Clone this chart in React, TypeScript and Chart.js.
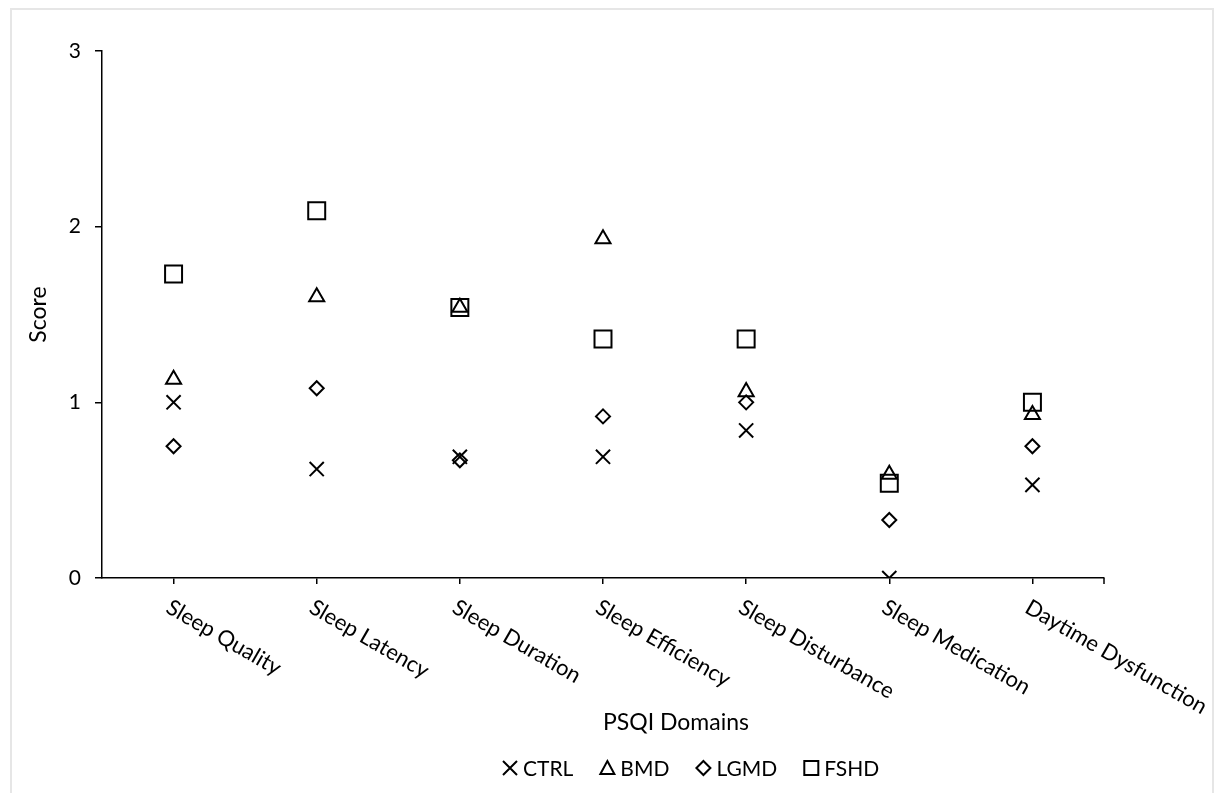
import React, { useEffect, useRef } from "react";
import { Chart, registerables } from "chart.js";

Chart.register(...registerables);

const categories = [
  "Sleep Quality",
  "Sleep Latency",
  "Sleep Duration",
  "Sleep Efficiency",
  "Sleep Disturbance",
  "Sleep Medication",
  "Daytime Dysfunction",
];
const ctrlValues = [1.0, 0.62, 0.69, 0.69, 0.84, 0.0, 0.53];
const bmdValues = [1.13, 1.6, 1.54, 1.93, 1.06, 0.59, 0.93];
const lgmdValues = [0.75, 1.08, 0.67, 0.92, 1.0, 0.33, 0.75];
const fshdValues = [1.73, 2.09, 1.54, 1.36, 1.36, 0.54, 1.0];
const seriesNames = ["CTRL", "BMD", "LGMD", "FSHD"];
const yTickValues = [0, 1, 2, 3];
const xTitle = "PSQI Domains";
const yTitle = "Score";

const FONT = "Lato, 'Open Sans', sans-serif";

function drawMarker(ctx: CanvasRenderingContext2D, kind: string, x: number, y: number, s: number) {
  ctx.beginPath();
  if (kind === "cross") {
    ctx.moveTo(x - s, y - s);
    ctx.lineTo(x + s, y + s);
    ctx.moveTo(x - s, y + s);
    ctx.lineTo(x + s, y - s);
  } else if (kind === "triangle") {
    ctx.moveTo(x, y - s);
    ctx.lineTo(x + s, y + s * 0.85);
    ctx.lineTo(x - s, y + s * 0.85);
    ctx.closePath();
  } else if (kind === "diamond") {
    ctx.moveTo(x, y - s);
    ctx.lineTo(x + s, y);
    ctx.lineTo(x, y + s);
    ctx.lineTo(x - s, y);
    ctx.closePath();
  } else {
    ctx.rect(x - s, y - s, 2 * s, 2 * s);
  }
  ctx.stroke();
}

const labelsPlugin = {
  id: "customLabels",
  afterDraw(chart: any) {
    const ctx: CanvasRenderingContext2D = chart.ctx;
    const ca = chart.chartArea;
    const xs = chart.scales.x;
    ctx.save();
    ctx.strokeStyle = "#000";
    ctx.fillStyle = "#000";
    ctx.lineWidth = 1.5;
    // end tick on x axis
    ctx.beginPath();
    ctx.moveTo(ca.right, ca.bottom);
    ctx.lineTo(ca.right, ca.bottom + 6);
    ctx.stroke();

    // rotated category labels
    ctx.font = `22px ${FONT}`;
    ctx.textAlign = "left";
    ctx.textBaseline = "top";
    categories.forEach((c, i) => {
      const px = xs.getPixelForValue(i);
      ctx.save();
      ctx.translate(px, ca.bottom + 18);
      ctx.rotate(Math.PI / 6);
      ctx.fillText(c, 0, 0);
      ctx.restore();
    });

    // x title
    ctx.font = `23px ${FONT}`;
    ctx.textAlign = "center";
    ctx.textBaseline = "middle";
    ctx.fillText(xTitle, ca.left + 574, 723);

    // y title
    ctx.save();
    ctx.translate(39, (ca.top + ca.bottom) / 2);
    ctx.rotate(-Math.PI / 2);
    ctx.fillText(yTitle, 0, 0);
    ctx.restore();

    // legend
    const kinds = ["cross", "triangle", "diamond", "square"];
    ctx.font = `21px ${FONT}`;
    ctx.textAlign = "left";
    ctx.textBaseline = "middle";
    ctx.lineWidth = 2;
    let x = 503;
    const ly = 768;
    seriesNames.forEach((name, i) => {
      drawMarker(ctx, kinds[i], x + 7, ly, 7);
      ctx.fillText(name, x + 20, ly + 1);
      x += 20 + ctx.measureText(name).width + 27;
    });
    ctx.restore();
  },
};

export default function App() {
  const canvasRef = useRef<HTMLCanvasElement | null>(null);

  useEffect(() => {
    const canvas = canvasRef.current;
    if (!canvas) return;
    const common = {
      showLine: false,
      pointBorderColor: "#000",
      pointBackgroundColor: "rgba(0,0,0,0)",
      pointBorderWidth: 2,
      pointHoverRadius: 0,
      borderColor: "#000",
      backgroundColor: "rgba(0,0,0,0)",
    };
    const chart = new Chart(canvas, {
      type: "line",
      data: {
        labels: categories,
        datasets: [
          { ...common, label: seriesNames[0], data: ctrlValues, pointStyle: "crossRot", pointRadius: 10 },
          { ...common, label: seriesNames[1], data: bmdValues, pointStyle: "triangle", pointRadius: 8.7 },
          { ...common, label: seriesNames[2], data: lgmdValues, pointStyle: "rectRot", pointRadius: 7 },
          { ...common, label: seriesNames[3], data: fshdValues, pointStyle: "rect", pointRadius: 12 },
        ],
      },
      options: {
        responsive: false,
        animation: false,
        events: [],
        layout: { padding: { left: 0, top: 51, right: 113, bottom: 215 } },
        plugins: {
          legend: { display: false },
          tooltip: { enabled: false },
        },
        scales: {
          x: {
            type: "category",
            offset: true,
            grid: {
              offset: false,
              drawOnChartArea: false,
              drawTicks: true,
              tickLength: 6,
              color: "#000",
              lineWidth: 1.5,
            },
            border: { display: true, color: "#000", width: 1.5 },
            ticks: { display: false },
            afterFit: (s: any) => {
              s.height = 0;
            },
          },
          y: {
            min: 0,
            max: 3,
            afterBuildTicks: (s: any) => {
              s.ticks = yTickValues.map((v) => ({ value: v }));
            },
            grid: {
              drawOnChartArea: false,
              drawTicks: true,
              tickLength: 7,
              color: "#000",
              lineWidth: 1.5,
            },
            border: { display: true, color: "#000", width: 1.5 },
            ticks: {
              font: { family: FONT, size: 21 },
              color: "#000",
              padding: 14,
            },
            afterFit: (s: any) => {
              s.width = 102;
            },
          },
        },
      },
      plugins: [labelsPlugin],
    } as any);
    return () => chart.destroy();
  }, []);

  return (
    <>
      <div
        style={{
          position: "absolute",
          left: 10,
          top: 8,
          width: 1204,
          height: 785,
          boxSizing: "border-box",
          borderLeft: "2px solid #e6e6e6",
          borderTop: "2px solid #e6e6e6",
          borderRight: "2px solid #e6e6e6",
        }}
      />
      <canvas
        ref={canvasRef}
        width={1217}
        height={793}
        style={{ position: "absolute", left: 0, top: 0, width: 1217, height: 793, display: "block" }}
      />
    </>
  );
}
